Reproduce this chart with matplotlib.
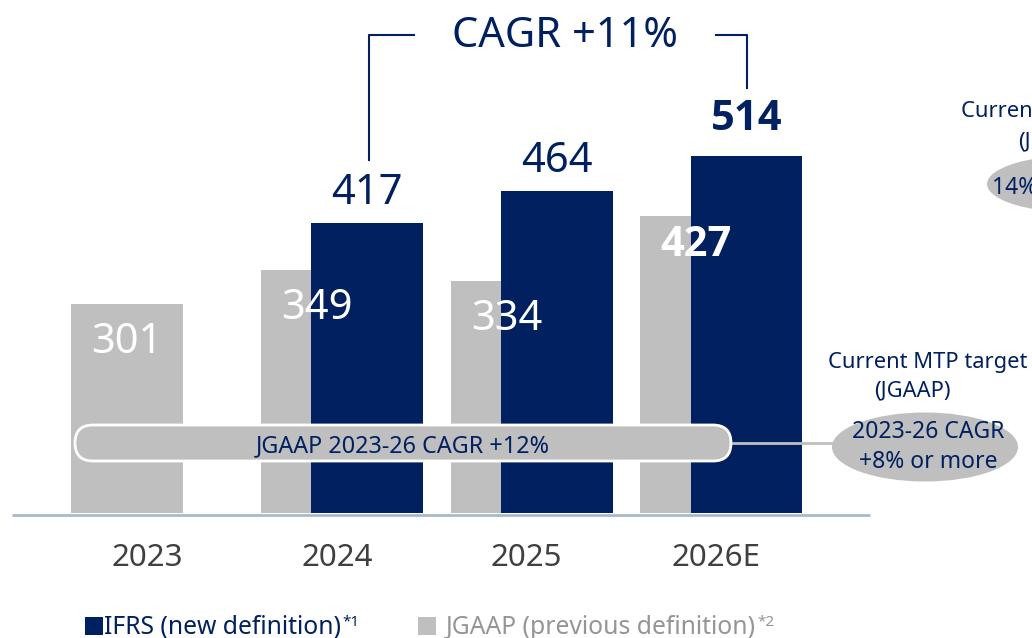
import numpy as np
import matplotlib
matplotlib.use("Agg")
import matplotlib.pyplot as plt
from matplotlib import font_manager as fm
from matplotlib.transforms import Affine2D
from matplotlib.patches import Ellipse, FancyBboxPatch, Rectangle

plt.rcParams['font.family'] = ['Noto Sans', 'DejaVu Sans']

# pick a family that really has a bold face
BOLD_FAM = 'DejaVu Sans'
for fam in ['Noto Sans', 'Open Sans', 'Lato', 'Roboto', 'Liberation Sans']:
    if any(f.name == fam and (f.weight in ('bold', 700) or str(f.weight) in ('700', 'bold'))
           for f in fm.fontManager.ttflist):
        BOLD_FAM = fam
        break

# ---- data ----
years = ['2023', '2024', '2025', '2026E']
jgaap = [301, 349, 334, 427]            # JGAAP (previous definition)
ifrs = [np.nan, 417, 464, 514]          # IFRS (new definition)
jgaap_bold = [False, False, False, True]
ifrs_bold = [False, False, False, True]
cagr_text = 'CAGR +11%'
jgaap_cagr_text = 'JGAAP 2023-26 CAGR +12%'
target_title = 'Current MTP target'
target_sub = '(JGAAP)'
target_lines = ['2023-26 CAGR', '+8% or more']
legend_ifrs = 'IFRS (new definition)'
legend_jgaap = 'JGAAP (previous definition)'

NAVY = '#002060'
GRAY = '#BFBFBF'
LGRAY_TXT = '#959595'

W, H, DPI = 1032, 638, 100
fig = plt.figure(figsize=(W / DPI, H / DPI), dpi=DPI)
ax = fig.add_axes([0, 0, 1, 1])

# pixel mapping of the axes (group centre spacing and value scale)
X0, SX = 152.25, 189.7
Y0, SY = 513.0, 0.695
ax.set_xlim((0 - X0) / SX, (W - X0) / SX)
ax.set_ylim((Y0 - H) / SY, Y0 / SY)
ax.axis('off')

# transform for decorations given in pixel coords (origin top-left)
PX = Affine2D().scale(1 / DPI, -1 / DPI).translate(0, H / DPI) + fig.dpi_scale_trans

x = np.arange(len(years))
off = 0.1331
bw = 0.588
ax.bar(x - off, jgaap, width=bw, color=GRAY, zorder=2)
ax.bar(x + off, ifrs, width=bw, color=NAVY, zorder=3)


def fontkw(bold):
    if bold:
        return dict(family=[BOLD_FAM, 'DejaVu Sans'], fontweight='bold')
    return dict(fontweight='normal')


# value labels
for xi, v, b in zip(x, ifrs, ifrs_bold):
    if np.isnan(v):
        continue
    dy = 26 if b else 19
    ax.text(xi + off, v + dy / SY, f'{v:.0f}', ha='center', va='baseline',
            fontsize=30, color=NAVY, zorder=6, **fontkw(b))
for xi, v, b in zip(x, jgaap, jgaap_bold):
    dy = 40 if b else 49
    ax.text(xi - off, v - dy / SY, f'{v:.0f}', ha='center', va='baseline',
            fontsize=30, color='white', zorder=6, **fontkw(b))

# year labels
for xi, y in zip(x, years):
    ax.text(xi - 5 / SX, (Y0 - 566) / SY, y, ha='center', va='baseline',
            fontsize=22.5, color='#404040')

# baseline axis line
ax.plot([(12 - X0) / SX, (870 - X0) / SX], [(Y0 - 515) / SY] * 2,
        color='#A7BACD', lw=2, zorder=4, solid_capstyle='butt')

# CAGR bracket
ax.plot([369, 369, 414], [160, 35, 35], color=NAVY, lw=1.5, transform=PX, zorder=5)
ax.plot([716, 747, 747], [35, 35, 88], color=NAVY, lw=1.5, transform=PX, zorder=5)
ax.text(565, 47, cagr_text, transform=PX, ha='center', va='baseline',
        fontsize=30, color=NAVY)

# JGAAP CAGR rounded box
box = FancyBboxPatch((75, 425), 656, 36, boxstyle='round,pad=0,rounding_size=18',
                     fc=GRAY, ec='white', lw=2, transform=PX, zorder=7)
ax.add_patch(box)
ax.text(403, 452, jgaap_cagr_text, transform=PX, ha='center', va='baseline',
        fontsize=16.8, color=NAVY, zorder=8)

# connector and target ellipse
ax.plot([733, 834], [443, 443], color=GRAY, lw=2, transform=PX, zorder=6)
ax.add_patch(Ellipse((925, 447), 186, 69, fc=GRAY, ec='none', transform=PX, zorder=7))
ax.text(928, 438, target_lines[0], transform=PX, ha='center', va='baseline',
        fontsize=16.5, color=NAVY, zorder=8)
ax.text(928, 468, target_lines[1], transform=PX, ha='center', va='baseline',
        fontsize=16.5, color=NAVY, zorder=8)
ax.text(928, 368, target_title, transform=PX, ha='center', va='baseline',
        fontsize=15.8, color=NAVY)
ax.text(912, 396, target_sub, transform=PX, ha='center', va='baseline',
        fontsize=15.8, color=NAVY)

# partially visible element at the top right (cut by the edge, as in the source)
ax.text(961, 117, target_title, transform=PX, ha='left', va='baseline',
        fontsize=15.8, color=NAVY)
ax.text(1018, 147, '(JGAAP)', transform=PX, ha='left', va='baseline',
        fontsize=15.8, color=NAVY)
ax.add_patch(Ellipse((1080, 184), 186, 58, fc=GRAY, ec='none', transform=PX, zorder=7))
ax.text(992, 194, '14% or more', transform=PX, ha='left', va='baseline',
        fontsize=16.5, color=NAVY, zorder=8)

# legend
ax.add_patch(Rectangle((85, 617), 18, 18, fc=NAVY, ec='none', transform=PX))
t1 = ax.text(104, 634, legend_ifrs, transform=PX, ha='left', va='baseline',
             fontsize=17.8, color=NAVY)
ax.add_patch(Rectangle((418, 617), 18, 18, fc=GRAY, ec='none', transform=PX))
t2 = ax.text(446, 634, legend_jgaap, transform=PX, ha='left', va='baseline',
             fontsize=17.8, color=LGRAY_TXT)

fig.canvas.draw()
r = fig.canvas.get_renderer()
for t, s, c in [(t1, '*1', NAVY), (t2, '*2', LGRAY_TXT)]:
    bb = t.get_window_extent(r)
    xe = bb.x1 * 1.0  # display px == figure px at dpi 100
    ax.text(xe + 1, 626, s, transform=PX, ha='left', va='baseline', fontsize=11, color=c)

fig.savefig('out.png', dpi=DPI)
